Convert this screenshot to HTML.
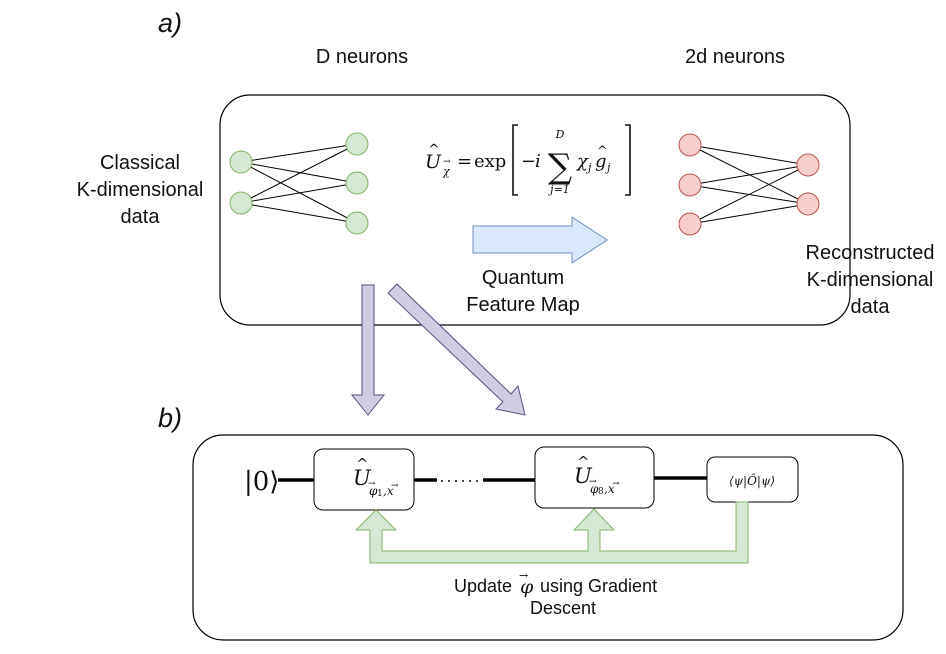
<!DOCTYPE html>
<html><head><meta charset="utf-8"><style>
body{margin:0;background:#fff;width:946px;height:649px;overflow:hidden}
svg text{font-family:"Liberation Sans",sans-serif;fill:#111}
.m{font-family:"DejaVu Serif","Liberation Serif",serif}
</style></head><body>
<svg width="946" height="649" viewBox="0 0 946 649" xmlns="http://www.w3.org/2000/svg">
<rect x="220" y="95" width="630" height="230" rx="30" fill="none" stroke="#000" stroke-width="1.2"/>
<rect x="193" y="435" width="710" height="205" rx="30" fill="none" stroke="#000" stroke-width="1.2"/>
<text x="158" y="32" font-size="27" font-style="italic">a)</text>
<text x="158" y="427" font-size="27" font-style="italic">b)</text>
<text x="362" y="63" font-size="20" text-anchor="middle">D neurons</text>
<text x="735" y="63" font-size="20" text-anchor="middle">2d neurons</text>
<g font-size="20" text-anchor="middle">
<text x="140" y="169">Classical</text><text x="140" y="196">K-dimensional</text><text x="140" y="223">data</text>
<text x="870" y="259">Reconstructed</text><text x="870" y="286">K-dimensional</text><text x="870" y="313">data</text>
<text x="523" y="284">Quantum</text><text x="523" y="311">Feature Map</text>
</g>
<g stroke="#000" stroke-width="1">
<line x1="241" y1="162" x2="357" y2="144"/><line x1="241" y1="162" x2="357" y2="183"/><line x1="241" y1="162" x2="357" y2="223"/>
<line x1="241" y1="203" x2="357" y2="144"/><line x1="241" y1="203" x2="357" y2="183"/><line x1="241" y1="203" x2="357" y2="223"/>
<line x1="690" y1="145" x2="808" y2="165"/><line x1="690" y1="145" x2="808" y2="204"/>
<line x1="690" y1="185" x2="808" y2="165"/><line x1="690" y1="185" x2="808" y2="204"/>
<line x1="690" y1="224" x2="808" y2="165"/><line x1="690" y1="224" x2="808" y2="204"/>
</g>
<g fill="#d5e8d4" stroke="#82b366">
<circle cx="241" cy="162" r="11"/><circle cx="241" cy="203" r="11"/>
<circle cx="357" cy="144" r="11"/><circle cx="357" cy="183" r="11"/><circle cx="357" cy="223" r="11"/>
</g>
<g fill="#f8cecc" stroke="#b85450">
<circle cx="690" cy="145" r="11"/><circle cx="690" cy="185" r="11"/><circle cx="690" cy="224" r="11"/>
<circle cx="808" cy="165" r="11"/><circle cx="808" cy="204" r="11"/>
</g>
<g class="m">
<text x="425" y="168" font-size="19" font-style="italic" class="m">U</text>
<text x="428" y="154" font-size="14" class="m">^</text>
<text x="443" y="175" font-size="11" font-style="italic" class="m">χ</text>
<text x="443" y="164" font-size="9" class="m">→</text>
<text x="457" y="167" font-size="18" class="m">=</text>
<text x="474" y="167" font-size="18" class="m">exp</text>
<path d="M518,125 h-5 v70 h5" fill="none" stroke="#111" stroke-width="1.6"/>
<text x="521" y="167" font-size="18" class="m">−</text>
<text x="535" y="167" font-size="18" font-style="italic" class="m">i</text>
<text x="560" y="178" font-size="34" text-anchor="middle" class="m">∑</text>
<text x="560" y="138" font-size="11" font-style="italic" text-anchor="middle" class="m">D</text>
<text x="560" y="193" font-size="11" font-style="italic" text-anchor="middle" class="m">j=1</text>
<text x="577" y="167" font-size="18" font-style="italic" class="m">χ</text>
<text x="588" y="171" font-size="11" font-style="italic" class="m">j</text>
<text x="595" y="167" font-size="18" font-style="italic" class="m">g</text>
<text x="597" y="155" font-size="13" class="m">^</text>
<text x="607" y="171" font-size="11" font-style="italic" class="m">j</text>
<path d="M625,125 h5 v70 h-5" fill="none" stroke="#111" stroke-width="1.6"/>
</g>
<polygon points="473,226 572,226 572,217 607,240 572,263 572,253 473,253" fill="#dae8fc" stroke="#6c8ebf"/>
<polygon points="362,285 374,285 374,395 384,395 368,415 352,395 362,395" fill="#d0cee2" stroke="#56517e"/>
<polygon points="397,284 388,293 503,402 496,409 525,415 518,386 511,394" fill="#d0cee2" stroke="#56517e"/>
<g stroke="#000" stroke-width="3.5">
<line x1="278" y1="480" x2="314" y2="480"/><line x1="414" y1="480" x2="437" y2="480"/>
<line x1="483" y1="480" x2="535" y2="480"/><line x1="654" y1="478" x2="707" y2="478"/>
</g>
<line x1="441" y1="481" x2="481" y2="481" stroke="#000" stroke-width="1.5" stroke-dasharray="2,5"/>
<text x="244" y="490" font-size="26" class="m">|0⟩</text>
<rect x="314" y="449" width="100" height="61" rx="9" fill="#fff" stroke="#000"/>
<rect x="535" y="447" width="119" height="61" rx="9" fill="#fff" stroke="#000"/>
<rect x="707" y="457" width="91" height="45" rx="8" fill="#fff" stroke="#000"/>
<g class="m">
<text x="353" y="485" font-size="21" font-style="italic" class="m">U</text>
<text x="356" y="469" font-size="15" class="m">^</text>
<text x="369" y="495" font-size="12" font-style="italic" class="m">φ</text>
<text x="368" y="486" font-size="9" class="m">→</text>
<text x="377" y="496" font-size="9" class="m">1</text>
<text x="383" y="495" font-size="12" font-style="italic" class="m">,x</text>
<text x="391" y="488" font-size="9" class="m">→</text>
<text x="574" y="483" font-size="21" font-style="italic" class="m">U</text>
<text x="577" y="467" font-size="15" class="m">^</text>
<text x="590" y="493" font-size="12" font-style="italic" class="m">φ</text>
<text x="589" y="484" font-size="9" class="m">→</text>
<text x="598" y="494" font-size="9" class="m">8</text>
<text x="604" y="493" font-size="12" font-style="italic" class="m">,x</text>
<text x="612" y="486" font-size="9" class="m">→</text>
<text x="752" y="485" font-size="12" font-style="italic" text-anchor="middle" class="m">⟨ψ|Ô|ψ⟩</text>
</g>
<polygon points="736,502 748,502 748,563 370,563 370,530 356,530 376,510 396,530 382,530 382,551 588,551 588,530 574,530 594,509 614,530 600,530 600,551 736,551" fill="#d5e8d4" stroke="#82b366"/>
<text x="454" y="592" font-size="18">Update</text>
<text x="520" y="593" font-size="19" font-style="italic" class="m">φ</text>
<text x="519" y="579" font-size="11" class="m">→</text>
<text x="540" y="592" font-size="18">using Gradient</text>
<text x="563" y="614" font-size="18" text-anchor="middle">Descent</text>
</svg>
</body></html>
